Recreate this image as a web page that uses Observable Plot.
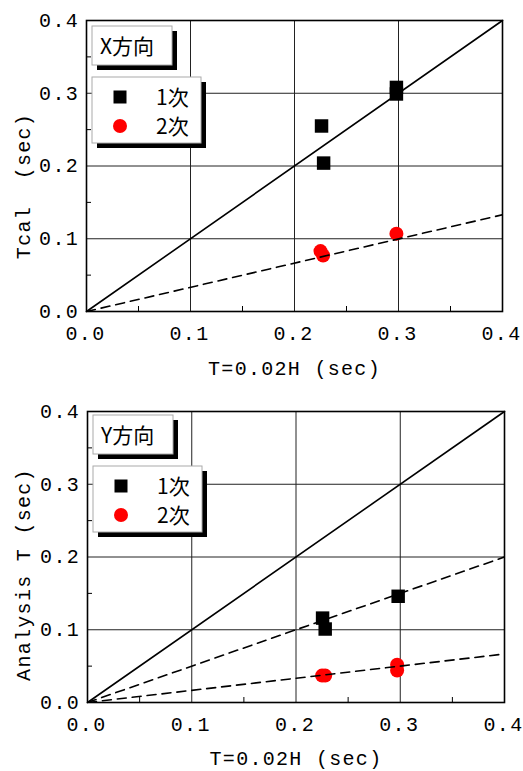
<!DOCTYPE html>
<html><head><meta charset="utf-8">
<script src="https://cdn.jsdelivr.net/npm/d3@7"></script>
<script src="https://cdn.jsdelivr.net/npm/@observablehq/plot@0.6"></script>
<style>
body{margin:0;background:#fff;}
#chart{width:523px;}
#chart svg{overflow:visible;display:block;}
</style></head><body><div id="chart"></div>
<script>
// ---- shared axis data ----
const axisTicks = [0, 0.1, 0.2, 0.3, 0.4];
const gridTicks = [0.1, 0.2, 0.3];
const minorTicks = [0.05, 0.15, 0.25, 0.35];
const xLabel = "T=0.02H (sec)";
const seriesNames = ["1次", "2次"];
const diagT = [0, 0.4];
const diagA = [0, 0.4];

// ---- top panel: X方向 ----
const xDirTitle = "X方向";
const xDirYLabel = "Tcal  (sec)";
const xMode1T = [0.226, 0.228, 0.298, 0.298];
const xMode1A = [0.255, 0.204, 0.308, 0.299];
const xMode2T = [0.225, 0.2275, 0.298];
const xMode2A = [0.083, 0.077, 0.107];
const xFit2T = [0, 0.4];
const xFit2A = [0, 0.133];

// ---- bottom panel: Y方向 ----
const yDirTitle = "Y方向";
const yDirYLabel = "Analysis T (sec)";
const yMode1T = [0.2255, 0.228, 0.298];
const yMode1A = [0.116, 0.101, 0.146];
const yMode2T = [0.225, 0.228, 0.297, 0.297];
const yMode2A = [0.037, 0.037, 0.052, 0.044];
const yFit1T = [0, 0.4];
const yFit1A = [0, 0.2];
const yFit2T = [0, 0.4];
const yFit2A = [0, 0.0667];

const zip = (xs, ys) => xs.map((x, i) => ({x, y: ys[i]}));
const numFont = "'Liberation Mono', 'DejaVu Sans Mono', monospace";
const cjkFont = "'Noto Sans CJK JP', 'Noto Sans', sans-serif";

function panel(cfg) {
  const fw = 523 - cfg.ml - cfg.mr, fh = cfg.h - cfg.mt - cfg.mb;
  const marks = [
    Plot.gridX(gridTicks, {stroke: "#222", strokeOpacity: 1, strokeWidth: 1}),
    Plot.gridY(gridTicks, {stroke: "#222", strokeOpacity: 1, strokeWidth: 1}),
    Plot.tickX(minorTicks, {x: d => d, stroke: "black", insetTop: fh - 5}),
    Plot.tickY(minorTicks, {y: d => d, stroke: "black", insetRight: fw - 5}),
    Plot.dot(zip(cfg.m2x, cfg.m2y), {x: "x", y: "y", r: 7, fill: "#ff0000", stroke: "none", symbol: "circle"}),
    Plot.dot(zip(cfg.m1x, cfg.m1y), {x: "x", y: "y", r: 7.6, fill: "black", stroke: "none", symbol: "square"}),
    Plot.line(zip(diagT, diagA), {x: "x", y: "y", stroke: "black", strokeWidth: 1.6}),
    ...cfg.fits.map(f => Plot.line(zip(f[0], f[1]), {x: "x", y: "y", stroke: "black", strokeWidth: 1.6, strokeDasharray: "9,6", clip: true})),
    Plot.axisX(axisTicks, {tickSize: 0, tickPadding: 14, dx: -1, tickFormat: d3.format(".1f"), label: null}),
    Plot.axisY(axisTicks, {tickSize: 0, tickPadding: 7.5, tickFormat: d3.format(".1f"), label: null}),
    Plot.text([xLabel], {text: d => d, frameAnchor: "bottom", textAnchor: "middle", dy: cfg.xlDy, lineAnchor: "middle"}),
    Plot.text([cfg.yLabel], {text: d => d, frameAnchor: "left", textAnchor: "middle", rotate: -90, dx: cfg.ylDx, dy: cfg.ylDy, lineAnchor: "middle"}),
    Plot.frame({stroke: "black", strokeWidth: 1.6})
  ];
  const svg = Plot.plot({
    width: 523, height: cfg.h,
    marginLeft: cfg.ml, marginRight: cfg.mr, marginTop: cfg.mt, marginBottom: cfg.mb,
    x: {domain: [0, 0.4], axis: null},
    y: {domain: [0, 0.4], axis: null},
    style: {fontFamily: numFont, fontSize: "20px", letterSpacing: "1.3px", whiteSpace: "pre", color: "black", background: "white"},
    marks
  });
  // legend boxes (decoration)
  const g = d3.select(svg).append("g")
    .style("letter-spacing", "0px").attr("font-family", cjkFont).attr("text-anchor", "start");
  const ox = cfg.lx, oy = cfg.ly;
  // title box
  g.append("rect").attr("x", ox + 5).attr("y", oy + 5).attr("width", 80).attr("height", 39).attr("fill", "black");
  g.append("rect").attr("x", ox).attr("y", oy).attr("width", 80).attr("height", 39).attr("fill", "white").attr("stroke", "#aaa");
  g.append("text").attr("x", ox + 8).attr("y", oy + 28).attr("font-size", 21).text(cfg.title);
  // series box
  const by = oy + 51;
  g.append("rect").attr("x", ox + 5).attr("y", by + 5).attr("width", 109).attr("height", 66).attr("fill", "black");
  g.append("rect").attr("x", ox).attr("y", by).attr("width", 109).attr("height", 66).attr("fill", "white").attr("stroke", "#aaa");
  g.append("rect").attr("x", ox + 28 - 6.5).attr("y", by + 20 - 6.5).attr("width", 13).attr("height", 13).attr("fill", "black");
  g.append("circle").attr("cx", ox + 28).attr("cy", by + 49).attr("r", 7).attr("fill", "#ff0000");
  g.append("text").attr("x", ox + 64).attr("y", by + 28).attr("font-size", 21).text(seriesNames[0]);
  g.append("text").attr("x", ox + 64).attr("y", by + 57).attr("font-size", 21).text(seriesNames[1]);
  return svg;
}

const chart = document.getElementById("chart");
chart.appendChild(panel({
  h: 390, ml: 86, mr: 21, mt: 20, mb: 79,
  m1x: xMode1T, m1y: xMode1A, m2x: xMode2T, m2y: xMode2A,
  fits: [[xFit2T, xFit2A]],
  yLabel: xDirYLabel, ylDx: -63, ylDy: 20, xlDy: 57,
  title: xDirTitle, lx: 92, ly: 26
}));
chart.appendChild(panel({
  h: 381, ml: 87, mr: 19, mt: 21, mb: 69,
  m1x: yMode1T, m1y: yMode1A, m2x: yMode2T, m2y: yMode2A,
  fits: [[yFit1T, yFit1A], [yFit2T, yFit2A]],
  yLabel: yDirYLabel, ylDx: -64, ylDy: 17.5, xlDy: 56,
  title: yDirTitle, lx: 93, ly: 25
}));
</script>
</body></html>
